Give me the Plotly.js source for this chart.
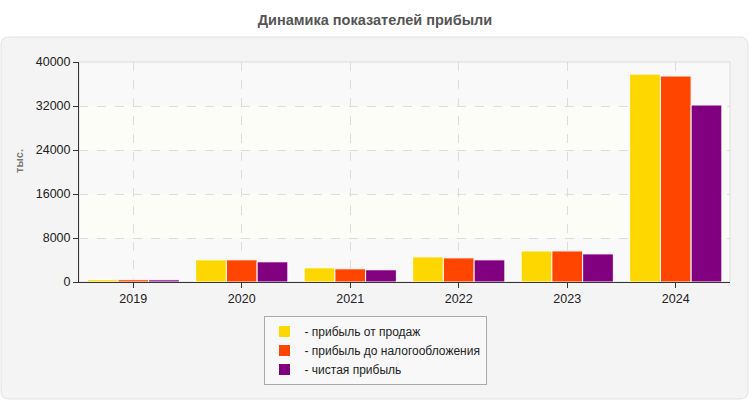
<!DOCTYPE html>
<html>
<head>
<meta charset="utf-8">
<script src="https://cdn.plot.ly/plotly-3.0.1.min.js"></script>
<style>
  html, body { margin: 0; padding: 0; background: #fff; }
  #chart { width: 750px; height: 400px; }
</style>
</head>
<body>
<div id="chart"></div>
<script>
// years on the x axis
const years = ["2019", "2020", "2021", "2022", "2023", "2024"];

// values, тыс.
const salesProfit = [420, 4030, 2580, 4570, 5650, 37800];
const preTaxProfit = [420, 4030, 2400, 4390, 5650, 37450];
const netProfit = [400, 3670, 2220, 4030, 5110, 32180];

const seriesNames = [
  "- прибыль от продаж",
  "- прибыль до налогообложения",
  "- чистая прибыль",
];
const seriesColors = ["#FFD700", "#FF4500", "#800080"];
const yTicks = [0, 8000, 16000, 24000, 32000, 40000];

const W = 750, H = 400;
const margin = { l: 79, r: 20, t: 62, b: 118 };
const plotW = W - margin.l - margin.r;
const plotH = H - margin.t - margin.b;

// pixel -> paper helpers (for the grey panel behind the chart)
const px = (x) => (x - margin.l) / plotW;
const py = (y) => (H - margin.b - y) / plotH;

function roundedPanel(x0, y0, x1, y1, r) {
  return (
    `M ${px(x0 + r)},${py(y0)} L ${px(x1 - r)},${py(y0)} ` +
    `Q ${px(x1)},${py(y0)} ${px(x1)},${py(y0 + r)} ` +
    `L ${px(x1)},${py(y1 - r)} Q ${px(x1)},${py(y1)} ${px(x1 - r)},${py(y1)} ` +
    `L ${px(x0 + r)},${py(y1)} Q ${px(x0)},${py(y1)} ${px(x0)},${py(y1 - r)} ` +
    `L ${px(x0)},${py(y0 + r)} Q ${px(x0)},${py(y0)} ${px(x0 + r)},${py(y0)} Z`
  );
}

const allSeries = [salesProfit, preTaxProfit, netProfit];

const data = allSeries.map((vals, i) => ({
  type: "bar",
  name: seriesNames[i],
  x: years,
  y: vals,
  marker: {
    color: seriesColors[i],
    line: { color: "#ffffff", width: 1 },
  },
  hoverinfo: "x+y",
}));

// alternating background bands
const bands = [];
for (let i = 0; i < yTicks.length - 1; i++) {
  bands.push({
    type: "rect",
    layer: "below",
    xref: "paper",
    yref: "y",
    x0: 0,
    x1: 1,
    y0: yTicks[i],
    y1: yTicks[i + 1],
    fillcolor: i % 2 === 0 ? "#f9f9f9" : "#fdfdf7",
    line: { width: 0 },
  });
}

const layout = {
  width: W,
  height: H,
  margin: margin,
  paper_bgcolor: "#ffffff",
  plot_bgcolor: "rgba(0,0,0,0)",
  font: { family: "Liberation Sans, Arial, sans-serif", size: 12, color: "#222" },
  title: {
    text: "<b>Динамика показателей прибыли</b>",
    font: { size: 14.5, color: "#555" },
    x: 0.5,
    xref: "container",
    xanchor: "center",
    y: 1 - 20 / H,
    yanchor: "middle",
  },
  barmode: "group",
  bargap: 0.15,
  bargroupgap: 0,
  xaxis: {
    type: "category",
    showline: true,
    linecolor: "#333",
    linewidth: 1,
    ticks: "outside",
    ticklen: 5,
    tickcolor: "#333",
    showgrid: true,
    gridcolor: "#dcdcdc",
    griddash: "dash",
    tickfont: { size: 12.5, color: "#222" },
    zeroline: false,
  },
  yaxis: {
    range: [0, 40000],
    tickvals: yTicks,
    tickformat: "d",
    showline: true,
    linecolor: "#333",
    linewidth: 1,
    ticks: "outside",
    ticklen: 5,
    tickcolor: "#333",
    showgrid: true,
    gridcolor: "#dcdcdc",
    griddash: "dash",
    zeroline: false,
    tickfont: { size: 12.5, color: "#222" },
  },
  // y axis unit label, placed by hand like the original
  annotations: [
    {
      text: "<b>тыс.</b>",
      xref: "paper",
      yref: "paper",
      x: px(19),
      y: py(161),
      xanchor: "center",
      yanchor: "middle",
      textangle: -90,
      showarrow: false,
      font: { size: 11, color: "#777" },
    },
  ],
  legend: {
    orientation: "v",
    x: px(375),
    xanchor: "center",
    y: py(316),
    yanchor: "top",
    bgcolor: "#f8f8f8",
    bordercolor: "#aaaaaa",
    borderwidth: 1,
    font: { size: 12, color: "#222" },
    tracegroupgap: 0,
    itemwidth: 30,
  },
  shapes: [
    {
      type: "path",
      layer: "below",
      xref: "paper",
      yref: "paper",
      path: roundedPanel(1, 37, 748, 399, 8),
      fillcolor: "#f4f4f4",
      line: { color: "#e2e2e2", width: 1 },
    },
    ...bands,
    {
      type: "rect",
      layer: "below",
      xref: "paper",
      yref: "paper",
      x0: 0,
      x1: 1,
      y0: 0,
      y1: 1,
      fillcolor: "rgba(0,0,0,0)",
      line: { color: "#dddddd", width: 1 },
    },
  ],
};

Plotly.newPlot("chart", data, layout, { displayModeBar: false, staticPlot: true });
</script>
</body>
</html>
